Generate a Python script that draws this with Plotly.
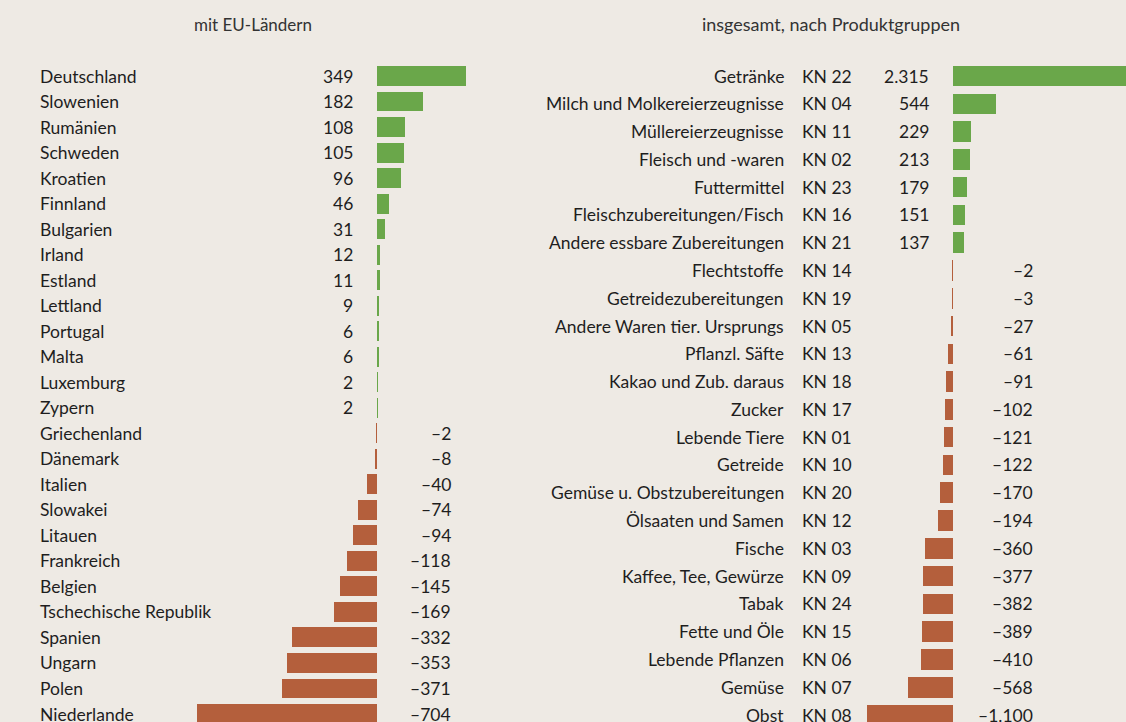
import plotly.graph_objects as go

# ---- data ----
eu_countries = ["Deutschland", "Slowenien", "Rumänien", "Schweden", "Kroatien", "Finnland",
                "Bulgarien", "Irland", "Estland", "Lettland", "Portugal", "Malta", "Luxemburg",
                "Zypern", "Griechenland", "Dänemark", "Italien", "Slowakei", "Litauen",
                "Frankreich", "Belgien", "Tschechische Republik", "Spanien", "Ungarn", "Polen",
                "Niederlande"]
eu_values = [349, 182, 108, 105, 96, 46, 31, 12, 11, 9, 6, 6, 2, 2, -2, -8, -40, -74, -94,
             -118, -145, -169, -332, -353, -371, -704]

prod_names = ["Getränke", "Milch und Molkereierzeugnisse", "Müllereierzeugnisse",
              "Fleisch und -waren", "Futtermittel", "Fleischzubereitungen/Fisch",
              "Andere essbare Zubereitungen", "Flechtstoffe", "Getreidezubereitungen",
              "Andere Waren tier. Ursprungs", "Pflanzl. Säfte", "Kakao und Zub. daraus",
              "Zucker", "Lebende Tiere", "Getreide", "Gemüse u. Obstzubereitungen",
              "Ölsaaten und Samen", "Fische", "Kaffee, Tee, Gewürze", "Tabak", "Fette und Öle",
              "Lebende Pflanzen", "Gemüse", "Obst"]
prod_codes = ["KN 22", "KN 04", "KN 11", "KN 02", "KN 23", "KN 16", "KN 21", "KN 14", "KN 19",
              "KN 05", "KN 13", "KN 18", "KN 17", "KN 01", "KN 10", "KN 20", "KN 12", "KN 03",
              "KN 09", "KN 24", "KN 15", "KN 06", "KN 07", "KN 08"]
prod_values = [2315, 544, 229, 213, 179, 151, 137, -2, -3, -27, -61, -91, -102, -121, -122,
               -170, -194, -360, -377, -382, -389, -410, -568, -1100]

titles = ["mit EU-Ländern", "insgesamt, nach Produktgruppen"]

# ---- style ----
W, H = 1126, 722
BG = "#EEEAE4"
GREEN = "#6AA74A"
BROWN = "#B45F3C"
TXT = "#1E1E1E"
FONT = "Lato"


def fmt(v):
    s = f"{abs(v):,}".replace(",", ".")
    return ("–" + s) if v < 0 else s


fig = go.Figure()

fig.add_trace(go.Bar(
    y=eu_countries, x=eu_values, orientation="h", width=0.78,
    marker=dict(color=[GREEN if v > 0 else BROWN for v in eu_values], line=dict(width=0)),
    xaxis="x", yaxis="y", hoverinfo="skip"))

fig.add_trace(go.Bar(
    y=prod_names, x=prod_values, orientation="h", width=0.74,
    marker=dict(color=[GREEN if v > 0 else BROWN for v in prod_values], line=dict(width=0)),
    xaxis="x2", yaxis="y2", hoverinfo="skip"))

ann = []
fs = 17.5
for name, v in zip(eu_countries, eu_values):
    ann.append(dict(x=38 / W, y=name, xref="paper", yref="y", text=name, xanchor="left",
                    showarrow=False, font=dict(size=fs, color=TXT, family=FONT)))
    xr = 355 if v > 0 else 453
    ann.append(dict(x=xr / W, y=name, xref="paper", yref="y", text=fmt(v), xanchor="right",
                    showarrow=False, font=dict(size=fs, color=TXT, family=FONT)))

for name, code, v in zip(prod_names, prod_codes, prod_values):
    ann.append(dict(x=786 / W, y=name, xref="paper", yref="y2", text=name, xanchor="right",
                    showarrow=False, font=dict(size=fs, color=TXT, family=FONT)))
    ann.append(dict(x=800 / W, y=name, xref="paper", yref="y2", text=code, xanchor="left",
                    showarrow=False, font=dict(size=fs, color=TXT, family=FONT)))
    xr = 931 if v > 0 else 1035
    ann.append(dict(x=xr / W, y=name, xref="paper", yref="y2", text=fmt(v), xanchor="right",
                    showarrow=False, font=dict(size=fs, color=TXT, family=FONT)))

ann.append(dict(x=253 / W, y=1 - 24 / H, xref="paper", yref="paper", text=titles[0],
                showarrow=False, xanchor="center", yanchor="middle",
                font=dict(size=17, color="#333333", family=FONT)))
ann.append(dict(x=831 / W, y=1 - 24 / H, xref="paper", yref="paper", text=titles[1],
                showarrow=False, xanchor="center", yanchor="middle",
                font=dict(size=18, color="#333333", family=FONT)))

# scales: left zero at 377px, 0.2551 px/unit; right zero at 953px, 0.0785 px/unit
lz, ls = 377, 0.2551
rz, rs = 953, 0.0785
left_dom = (0, 563)
right_dom = (563, 1126)

step_l = (714 - 76) / 25
step_r = (715 - 76) / 23

axis_common = dict(showgrid=False, zeroline=False, showticklabels=False, ticks="",
                   showline=False, fixedrange=True)

fig.update_layout(
    width=W, height=H, margin=dict(l=0, r=0, t=0, b=0),
    paper_bgcolor=BG, plot_bgcolor=BG, showlegend=False, bargap=0,
    annotations=ann,
    xaxis=dict(domain=[left_dom[0] / W, left_dom[1] / W],
               range=[(left_dom[0] - lz) / ls, (left_dom[1] - lz) / ls], **axis_common),
    yaxis=dict(domain=[0, 1], type="category", categoryorder="array",
               categoryarray=eu_countries,
               range=[(H - 76) / step_l, -76 / step_l], **axis_common),
    xaxis2=dict(domain=[right_dom[0] / W, right_dom[1] / W],
                range=[(right_dom[0] - rz) / rs, (right_dom[1] - rz) / rs], **axis_common),
    yaxis2=dict(domain=[0, 1], anchor="x2", type="category", categoryorder="array",
                categoryarray=prod_names,
                range=[(H - 76) / step_r, -76 / step_r], **axis_common),
)

fig.write_html("out.html", config={"displayModeBar": False},
               post_script="document.body.style.margin='0';document.body.style.background='" + BG + "';")
